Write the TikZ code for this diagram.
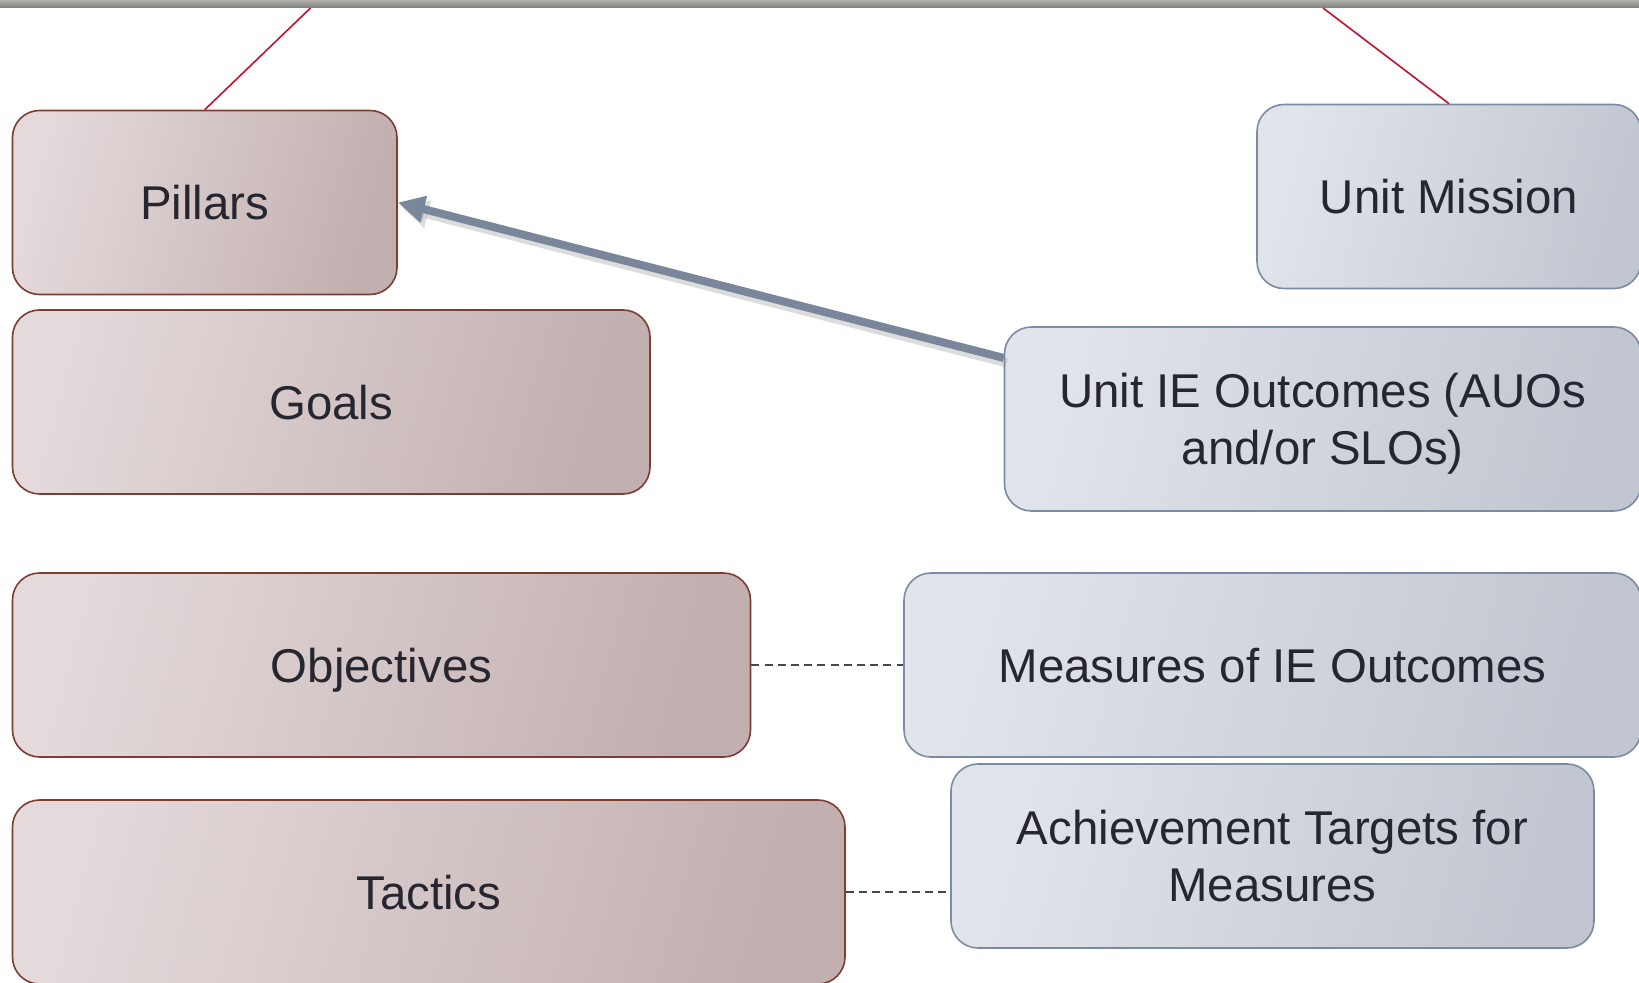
\documentclass[tikz,border=0pt]{standalone}
\usepackage{fontspec}
\setmainfont{Liberation Sans}
\usetikzlibrary{arrows.meta,calc}
\definecolor{lboxL}{HTML}{E4DADB}
\definecolor{lboxR}{HTML}{C2AFAF}
\definecolor{lboxB}{HTML}{7E3D33}
\definecolor{rboxL}{HTML}{E1E4EB}
\definecolor{rboxR}{HTML}{C1C6D0}
\definecolor{rboxB}{HTML}{7A8BA3}
\definecolor{txtc}{HTML}{262631}
\definecolor{redl}{HTML}{C8102E}
\definecolor{arrc}{HTML}{7A879B}
\definecolor{barc}{HTML}{7E7F77}
\tikzset{
  basebox/.style={rounded corners=13.5pt, line width=0.8pt, minimum height=92pt,
    inner sep=0pt, align=center, text=txtc, text depth=0pt, font=\fontsize{23.7}{28.75}\selectfont},
  lbox/.style={basebox, draw=lboxB, left color=lboxL, right color=lboxR, shading angle=75},
  rbox/.style={basebox, draw=rboxB, left color=rboxL, right color=rboxR, shading angle=75},
  redline/.style={draw=redl, line width=0.8pt},
  dashline/.style={draw=txtc!85, line width=0.7pt, dash pattern=on 4pt off 2.6pt},
  bigarrow/.style={draw=arrc, line width=4pt, -{Triangle[length=13.4pt,width=12.8pt]}},
  shadowarrow/.style={draw=black!45, opacity=0.3, line width=4.5pt, -{Triangle[length=13.4pt,width=13.4pt]}}
}
\begin{document}
\begin{tikzpicture}[x=0.5pt,y=-0.5pt]
\useasboundingbox (0,0) rectangle (1639,983);
\clip (0,0) rectangle (1639,983);
\fill[white] (0,0) rectangle (1639,983);
\shade[top color=barc!60, bottom color=barc] (0,0) rectangle (1639,8);

% left column
\node[lbox, minimum width=192.25pt] (pillars) at (204.75,202.5) {Pillars};
\node[lbox, minimum width=318.75pt] (goals) at (331.25,402) {Goals};
\node[lbox, minimum width=369pt] (objectives) at (381.5,665) {Objectives};
\node[lbox, minimum width=416.25pt] (tactics) at (428.75,892) {Tactics};

% right column
\node[rbox, minimum width=192pt] (mission) at (1449,196.5) {Unit Mission};
\node[rbox, minimum width=318.25pt] (ieo) at (1322.75,419) {Unit IE Outcomes (AUOs\\and/or SLOs)};
\node[rbox, minimum width=368.5pt] (measures) at (1272.5,665) {Measures of IE Outcomes};
\node[rbox, minimum width=321.5pt] (targets) at (1272.5,856) {Achievement Targets for\\Measures};

% red lines to top bar
\coordinate (topL) at (310.5,8);
\coordinate (topR) at (1323,8);
\draw[redline] (topL) -- (pillars.north);
\draw[redline] (topR) -- (mission.north);

% dashed connectors
\draw[dashline] (objectives.east) -- (measures.west);
\draw[dashline] (tactics.east) -- (tactics.east -| targets.west);

% big arrow
\coordinate (atail) at ($(ieo.north west)!0.171!(ieo.south west)$);
\draw[shadowarrow] ($(atail)+(3,5)$) -- ($(pillars.east)+(4,5)$);
\draw[bigarrow] (atail) -- (pillars.east);
\end{tikzpicture}
\end{document}
